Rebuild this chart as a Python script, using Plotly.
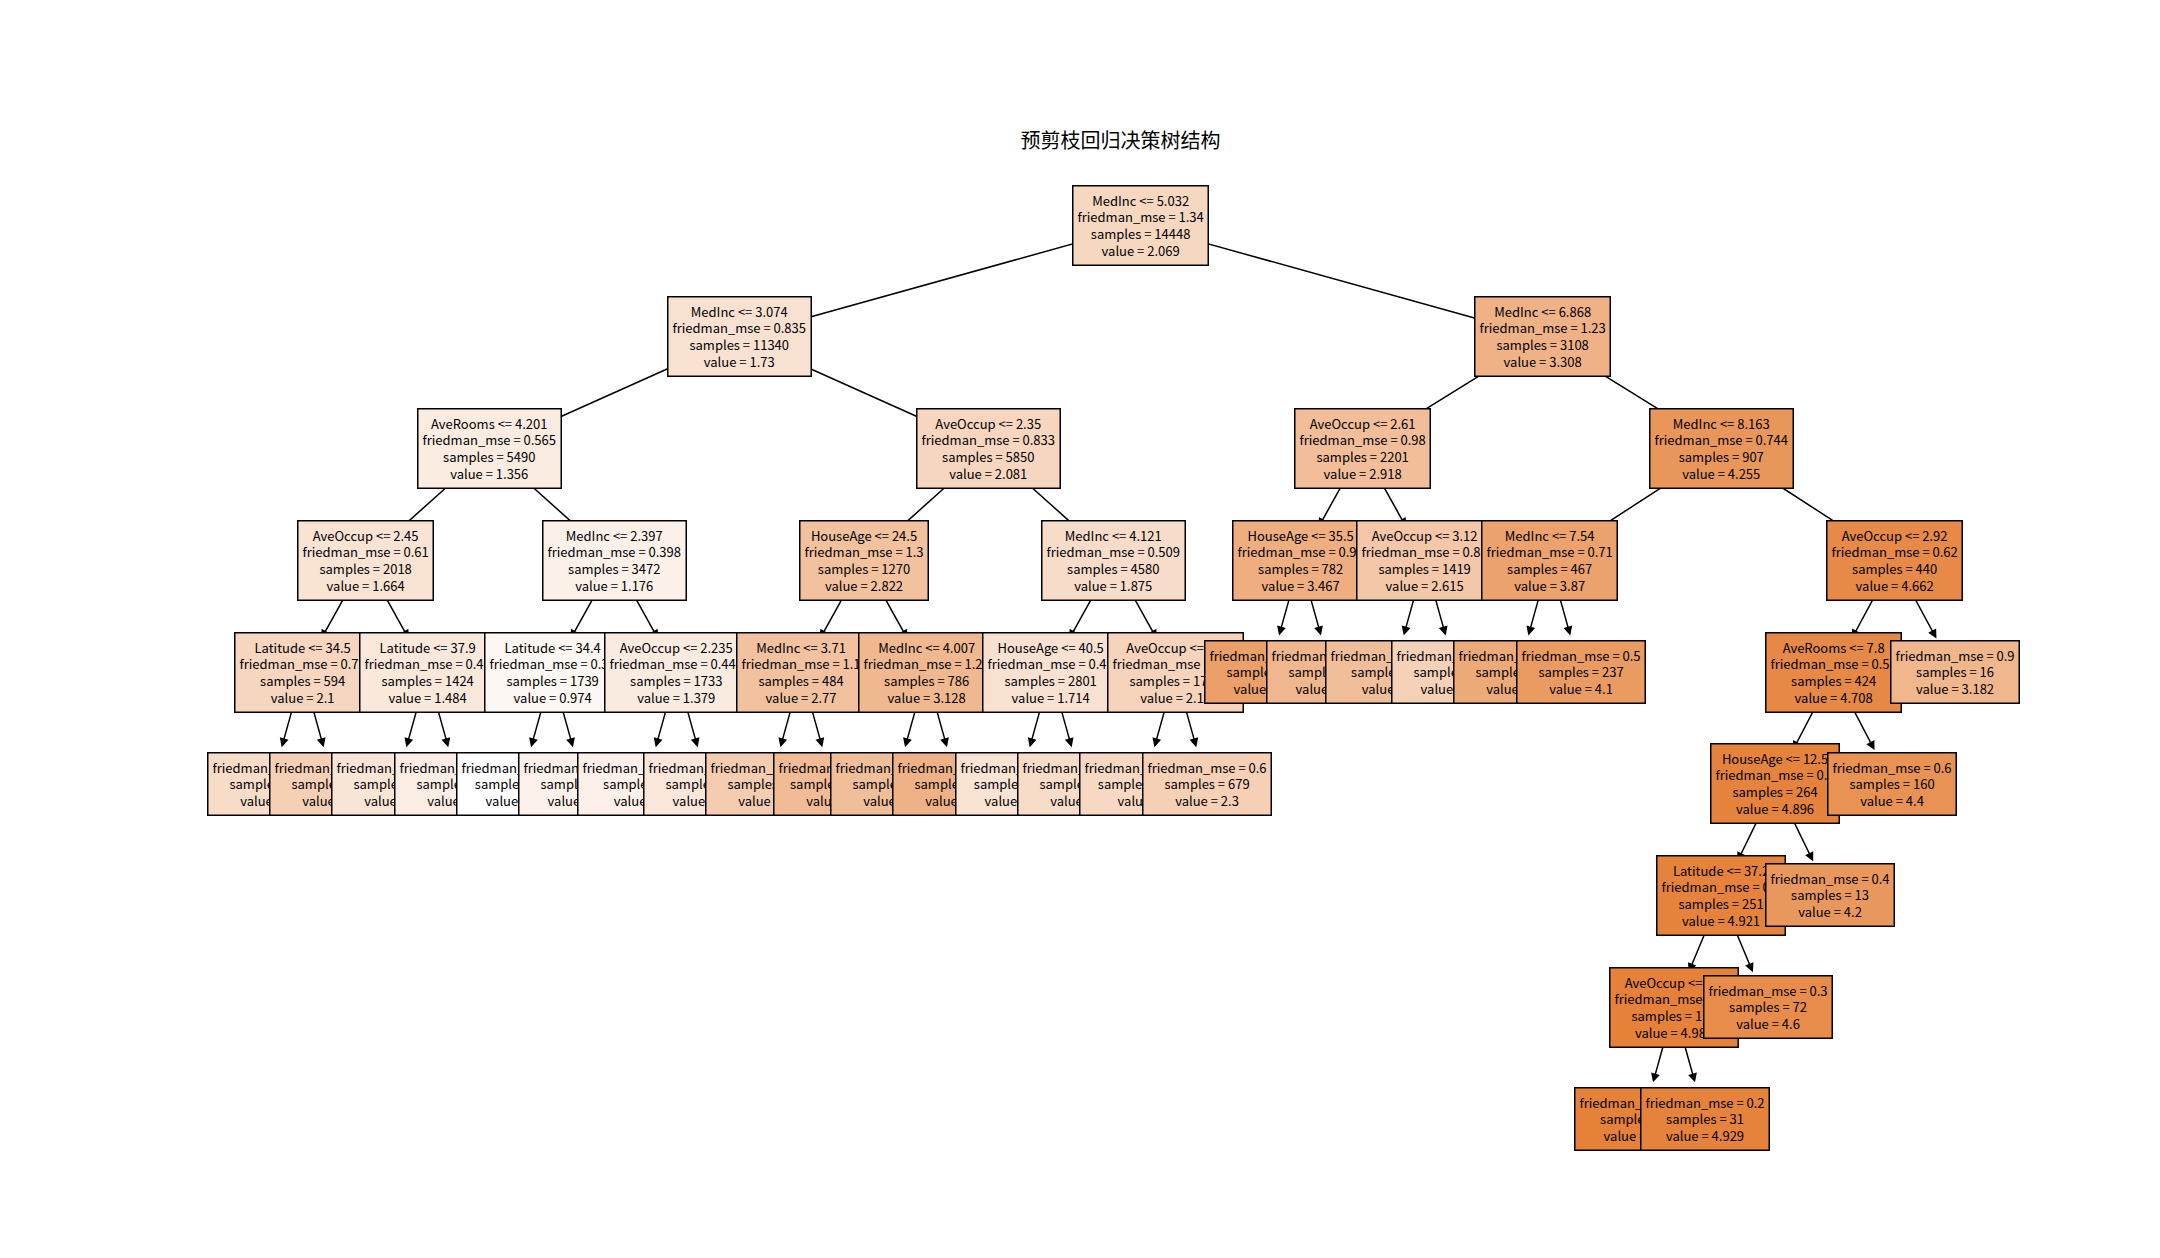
import plotly.graph_objects as go

# tree nodes: parent index, split rule ("" = leaf), friedman_mse, samples, value
parents = [-1, 0, 0, 1, 1, 2, 2, 3, 3, 4, 4, 5, 5, 6, 6,
           7, 7, 8, 8, 9, 9, 10, 10, 11, 11, 12, 12, 13, 13, 14, 14,
           29, 29, 31, 31, 33, 33, 35, 35, 15, 15, 16, 16, 17, 17, 18, 18,
           19, 19, 20, 20, 21, 21, 22, 22]
splits = ["MedInc <= 5.032", "MedInc <= 3.074", "MedInc <= 6.868", "AveRooms <= 4.201",
          "AveOccup <= 2.35", "AveOccup <= 2.61", "MedInc <= 8.163", "AveOccup <= 2.45",
          "MedInc <= 2.397", "HouseAge <= 24.5", "MedInc <= 4.121", "HouseAge <= 35.5",
          "AveOccup <= 3.12", "MedInc <= 7.54", "AveOccup <= 2.92",
          "Latitude <= 34.5", "Latitude <= 37.9", "Latitude <= 34.4", "AveOccup <= 2.235",
          "MedInc <= 3.71", "MedInc <= 4.007", "HouseAge <= 40.5", "AveOccup <= 3.1",
          "", "", "", "", "", "", "AveRooms <= 7.8", "",
          "HouseAge <= 12.5", "", "Latitude <= 37.2", "", "AveOccup <= 2.1", "", "", "",
          "", "", "", "", "", "", "", "",
          "", "", "", "", "", "", "", ""]
mse = [1.34, 0.835, 1.226, 0.565, 0.833, 0.98, 0.744, 0.61, 0.398, 1.3, 0.509, 0.92,
       0.81, 0.71, 0.62, 0.72, 0.45, 0.31, 0.445, 1.1, 1.282, 0.41, 0.58,
       0.9, 0.8, 0.75, 0.6, 0.7, 0.5, 0.55, 0.9, 0.3, 0.6, 0.2, 0.4, 0.1, 0.3, 0.05, 0.2,
       0.8, 0.6, 0.4, 0.5, 0.2, 0.3, 0.35, 0.5, 0.9, 1.0, 1.1, 1.2, 0.3, 0.4, 0.5, 0.6]
samples = [14448, 11340, 3108, 5490, 5850, 2201, 907, 2018, 3472, 1270, 4580, 782,
           1419, 467, 440, 594, 1424, 1739, 1733, 484, 786, 2801, 1779,
           310, 472, 800, 619, 230, 237, 424, 16, 264, 160, 251, 13, 179, 72, 148, 31,
           260, 334, 780, 644, 1020, 719, 900, 833, 240, 244, 400, 386, 2462, 339, 1100, 679]
values = [2.069, 1.73, 3.308, 1.356, 2.081, 2.918, 4.255, 1.664, 1.176, 2.822, 1.875, 3.467,
          2.615, 3.87, 4.662, 2.1, 1.484, 0.974, 1.379, 2.77, 3.128, 1.714, 2.17,
          3.92, 3.18, 2.9, 2.25, 3.6, 4.1, 4.708, 3.182, 4.896, 4.4, 4.921, 4.2, 4.982, 4.6,
          4.995, 4.929, 1.9, 2.3, 1.6, 1.3, 0.72, 1.15, 1.2, 1.51, 2.4, 3.0, 2.9, 3.3,
          1.65, 1.9, 2.0, 2.3]
title = "预剪枝回归决策树结构"

n = len(parents)
children = [[] for _ in range(n)]
for i, p in enumerate(parents):
    if p >= 0:
        children[p].append(i)
depth = [0] * n
for i in range(1, n):
    depth[i] = depth[parents[i]] + 1

# simple layout: leaves spaced evenly, parents centred over children
xs = [0.0] * n
counter = [0]
def place(i):
    if not children[i]:
        xs[i] = counter[0]
        counter[0] += 1
    else:
        for c in children[i]:
            place(c)
        xs[i] = sum(xs[c] for c in children[i]) / len(children[i])
place(0)

vmin, vmax = min(values), max(values)
def color(v):
    t = (v - vmin) / (vmax - vmin)
    r = int(255 + (229 - 255) * t)
    g = int(255 + (129 - 255) * t)
    b = int(255 + (57 - 255) * t)
    return f"rgb({r},{g},{b})"

fig = go.Figure(go.Scatter(x=[min(xs), max(xs)], y=[0, -max(depth)], mode="markers",
                           marker=dict(opacity=0), hoverinfo="skip"))

# edges with arrowheads
for i, p in enumerate(parents):
    if p >= 0:
        fig.add_annotation(x=xs[i], y=-depth[i], ax=xs[p], ay=-depth[p],
                           xref="x", yref="y", axref="x", ayref="y",
                           showarrow=True, arrowhead=2, arrowsize=1.2, arrowwidth=1.5,
                           arrowcolor="black", text="", standoff=38, startstandoff=38)

for i in range(n):
    lines = []
    if splits[i]:
        lines.append(splits[i])
    lines += [f"friedman_mse = {mse[i]:.3g}", f"samples = {samples[i]}", f"value = {values[i]:.4g}"]
    fig.add_annotation(x=xs[i], y=-depth[i], text="<br>".join(lines), showarrow=False,
                       bgcolor=color(values[i]), bordercolor="black", borderwidth=1.5,
                       borderpad=4, font=dict(size=13, color="black"))

fig.update_layout(
    title=dict(text=title, x=0.515, y=0.9, font=dict(size=20, color="black")),
    width=2160, height=1258, plot_bgcolor="white", paper_bgcolor="white",
    font=dict(family="Noto Sans CJK SC"),
    xaxis=dict(visible=False, range=[-1.5, counter[0] + 0.5]),
    yaxis=dict(visible=False, range=[-max(depth) - 0.6, 0.6]),
    margin=dict(l=170, r=120, t=150, b=80), showlegend=False,
)
fig.write_html("out.html")
